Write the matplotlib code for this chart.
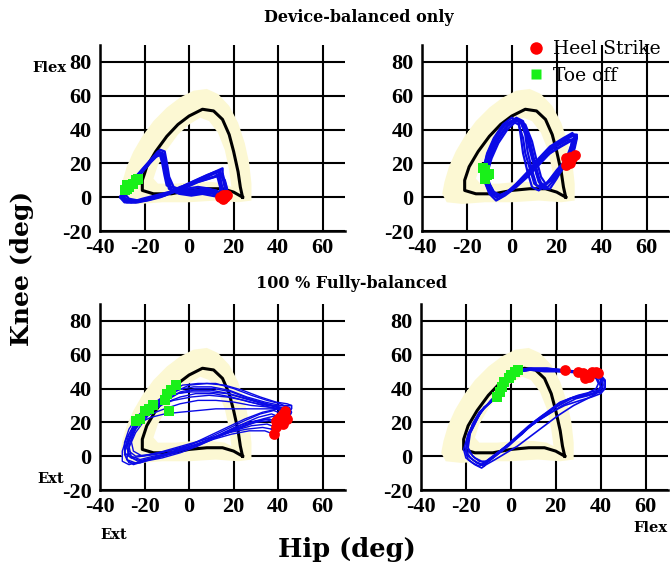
import matplotlib.pyplot as plt
from matplotlib.lines import Line2D

plt.rcParams['font.family'] = 'DejaVu Serif'
plt.rcParams['axes.unicode_minus'] = False

# normative hip-knee loop (mean) and its +/- SD envelope
norm_hip = [24, 20, 15, 8, 0, -8, -16, -21, -21, -19, -15, -10, -5, 0, 6, 11, 15, 18, 20, 22, 23, 24]
norm_knee = [0, 3, 5, 5, 4, 2, 2, 4, 10, 18, 27, 36, 43, 48, 52, 51, 46, 37, 27, 15, 6, 0]

sd_outer_hip = [28, 28, 27, 25, 22, 18, 13, 8, 2, -4, -10, -16, -21, -25, -28, -30, -31, -29, -22, -12, 0, 12, 22]
sd_outer_knee = [-2, 8, 20, 32, 44, 54, 61, 64, 63, 59, 53, 45, 36, 27, 18, 9, 2, -3, -4, -3, -3, -2, -3]
sd_inner_hip = [19, 18, 16, 13, 9, 5, 0, -5, -10, -14, -16, -14, -6, 2, 10, 16]
sd_inner_knee = [6, 16, 28, 38, 45, 47, 43, 37, 28, 19, 11, 8, 8, 9, 9, 8]

# device-balanced only, subject A
tl_hip = [
    [16, 16, 15, 15, 10, 5, 0, -5, -10, -16, -22, -27, -30, -29, -28, -25, -21, -17, -14, -12, -11, -10, -9, -5, 0, 5, 10, 14, 16],
    [15, 14, 14, 13, 8, 3, -2, -7, -12, -18, -24, -28, -30, -28, -27, -24, -20, -16, -13, -12, -11, -9, -8, -4, 1, 6, 11, 15],
    [17, 17, 16, 14, 9, 4, -1, -6, -11, -17, -23, -28, -31, -29, -27, -24, -20, -16, -13, -11, -10, -9, -7, -3, 2, 7, 12, 15, 17],
    [15, 15, 14, 14, 9, 4, -1, -6, -11, -17, -23, -27, -29, -28, -26, -23, -19, -15, -12, -11, -10, -9, -8, -3, 3, 8, 12, 15],
    [16, 17, 16, 15, 11, 6, 1, -4, -9, -15, -21, -26, -29, -29, -27, -24, -21, -18, -15, -13, -12, -11, -10, -6, -1, 4, 9, 13, 16],
    [14, 14, 13, 12, 8, 3, -2, -7, -13, -19, -25, -29, -31, -30, -28, -25, -21, -17, -14, -12, -11, -10, -8, -4, 1, 6, 10, 14],
]
tl_knee = [
    [0, 6, 12, 17, 14, 11, 8, 5, 2, 0, -2, -2, 0, 3, 5, 10, 16, 22, 27, 26, 19, 11, 5, 3, 3, 4, 3, 1, 0],
    [1, 7, 13, 15, 12, 9, 6, 3, 1, -1, -3, -2, 1, 4, 6, 11, 17, 23, 26, 24, 17, 9, 4, 2, 2, 3, 2, 1],
    [1, 5, 10, 13, 11, 9, 6, 4, 2, -1, -3, -3, 0, 4, 7, 12, 18, 24, 28, 27, 20, 12, 6, 4, 4, 5, 4, 2, 1],
    [-1, 5, 11, 16, 13, 10, 7, 4, 1, -1, -2, -1, 2, 5, 8, 13, 19, 24, 26, 23, 16, 9, 4, 3, 3, 4, 2, -1],
    [0, 4, 9, 14, 12, 10, 8, 6, 3, 1, -1, -3, -1, 3, 6, 11, 15, 20, 24, 25, 20, 13, 7, 5, 5, 6, 5, 2, 0],
    [0, 6, 11, 15, 13, 10, 7, 3, 0, -2, -3, -3, 0, 2, 5, 9, 15, 21, 25, 25, 18, 10, 4, 2, 1, 2, 1, 0],
]
tl_hs_hip = [14, 15, 16, 17, 16, 15]
tl_hs_knee = [0, -1, 0, 1, 1, 1]
tl_to_hip = [-29, -28, -27, -25, -24, -23, -28]
tl_to_knee = [4, 5, 6, 8, 10, 11, 7]

# device-balanced only, subject B
tr_hip = [
    [25, 27, 28, 26, 22, 17, 12, 8, 3, -2, -6, -9, -11, -12, -10, -7, -3, 1, 4, 6, 7, 9, 11, 14, 18, 22, 25],
    [26, 28, 29, 27, 23, 18, 13, 8, 3, -2, -5, -9, -11, -12, -10, -6, -2, 2, 5, 7, 9, 11, 13, 16, 20, 24, 26],
    [24, 26, 27, 25, 21, 16, 11, 7, 2, -3, -7, -10, -12, -13, -11, -8, -4, 0, 3, 5, 6, 8, 10, 13, 17, 21, 24],
    [25, 27, 28, 27, 23, 17, 12, 7, 2, -3, -6, -9, -11, -11, -9, -6, -2, 2, 5, 8, 10, 12, 14, 17, 20, 23, 25],
    [27, 28, 29, 28, 24, 19, 14, 9, 4, -1, -5, -8, -10, -12, -10, -7, -3, 1, 4, 6, 8, 10, 12, 15, 19, 24, 27],
    [26, 28, 29, 28, 24, 19, 14, 9, 4, -1, -5, -8, -10, -11, -9, -6, -2, 2, 6, 9, 11, 13, 15, 18, 22, 26],
    [24, 26, 27, 26, 22, 17, 12, 7, 2, -3, -7, -10, -12, -13, -11, -8, -4, 0, 3, 4, 5, 7, 9, 12, 16, 20, 24],
]
tr_knee = [
    [22, 30, 36, 36, 33, 29, 22, 15, 8, 3, 1, 4, 9, 14, 24, 33, 41, 46, 45, 37, 27, 16, 7, 6, 12, 18, 22],
    [24, 31, 37, 37, 34, 29, 22, 14, 8, 3, 0, 3, 8, 13, 24, 34, 42, 47, 45, 36, 25, 14, 6, 6, 12, 19, 24],
    [20, 28, 34, 34, 31, 27, 20, 13, 7, 2, 0, 3, 9, 15, 25, 34, 42, 45, 43, 35, 26, 17, 8, 5, 10, 16, 20],
    [23, 30, 35, 38, 35, 30, 23, 15, 8, 2, -1, 2, 8, 14, 23, 32, 40, 45, 44, 34, 22, 12, 5, 5, 11, 18, 23],
    [25, 31, 36, 35, 32, 28, 23, 16, 9, 4, 1, 3, 8, 16, 26, 35, 43, 46, 44, 38, 28, 18, 9, 7, 13, 20, 25],
    [21, 29, 35, 37, 34, 30, 24, 17, 10, 4, 1, 3, 8, 15, 25, 35, 42, 46, 43, 33, 22, 12, 8, 10, 16, 21],
    [22, 29, 33, 33, 30, 26, 19, 12, 6, 1, -2, 2, 9, 15, 26, 35, 43, 47, 45, 36, 26, 15, 6, 4, 9, 16, 22],
]
tr_hs_hip = [24, 25, 26, 27, 28, 24, 26]
tr_hs_knee = [19, 22, 24, 23, 25, 23, 20]
tr_to_hip = [-12, -11, -12, -10, -13]
tr_to_knee = [11, 13, 16, 14, 17]

# 100 % fully-balanced, subject A
bl_hip = [
    [40, 36, 30, 22, 14, 6, -2, -10, -18, -24, -28, -29, -27, -24, -19, -13, -6, 2, 10, 18, 26, 34, 41, 45, 46, 44, 40],
    [41, 37, 31, 24, 16, 8, 0, -8, -16, -22, -26, -27, -25, -22, -17, -11, -4, 4, 12, 20, 28, 36, 42, 45, 45, 43, 41],
    [39, 35, 28, 20, 12, 4, -4, -12, -20, -25, -28, -27, -24, -19, -14, -9, -3, 4, 12, 20, 28, 35, 41, 44, 45, 42, 39],
    [42, 38, 32, 25, 17, 9, 1, -7, -15, -21, -25, -26, -24, -20, -15, -10, -4, 3, 11, 19, 27, 35, 42, 46, 46, 44, 42],
    [43, 39, 33, 26, 18, 10, 2, -6, -14, -21, -26, -28, -26, -22, -17, -11, -5, 2, 10, 18, 26, 34, 40, 44, 46, 45, 43],
    [38, 34, 27, 19, 11, 3, -5, -13, -21, -27, -30, -30, -28, -24, -20, -14, -7, 1, 9, 17, 25, 33, 39, 43, 44, 41, 38],
    [40, 36, 30, 23, 15, 7, -1, -9, -17, -23, -27, -28, -26, -22, -16, -10, -4, 3, 11, 19, 27, 35, 41, 45, 45, 43, 40],
    [39, 35, 29, 22, 14, 6, -2, -10, -18, -24, -27, -27, -25, -22, -17, -11, -4, 4, 12, 20, 28, 35, 41, 44, 44, 42, 39],
    [44, 40, 33, 25, 17, 9, 1, -7, -15, -22, -27, -29, -28, -25, -21, -15, -8, 0, 8, 16, 24, 32, 39, 44, 46, 46, 44],
    [37, 33, 26, 18, 10, 2, -6, -14, -21, -26, -29, -29, -27, -23, -18, -12, -6, 1, 9, 17, 25, 33, 39, 43, 43, 40, 37],
]
bl_knee = [
    [20, 22, 21, 18, 13, 8, 4, 1, -2, -4, -2, 4, 13, 21, 28, 34, 39, 41, 41, 39, 35, 32, 30, 29, 26, 22, 20],
    [23, 25, 23, 19, 14, 9, 5, 2, 0, -2, 0, 6, 14, 22, 25, 28, 31, 33, 33, 32, 30, 29, 28, 27, 25, 24, 23],
    [17, 19, 18, 15, 11, 6, 2, -1, -3, -5, -2, 5, 14, 23, 31, 37, 42, 43, 43, 40, 36, 33, 31, 29, 25, 20, 17],
    [25, 27, 25, 21, 16, 11, 7, 4, 1, 0, 3, 9, 16, 23, 28, 32, 35, 37, 37, 35, 32, 30, 30, 30, 28, 26, 25],
    [22, 24, 22, 19, 15, 10, 6, 2, -1, -3, -1, 5, 12, 20, 27, 33, 37, 39, 39, 37, 34, 31, 29, 28, 26, 23, 22],
    [13, 15, 15, 13, 10, 6, 3, 0, -3, -5, -3, 3, 11, 19, 26, 30, 33, 35, 36, 35, 33, 30, 28, 26, 22, 16, 13],
    [19, 21, 20, 17, 13, 9, 5, 2, -1, -3, 0, 6, 14, 22, 28, 33, 38, 40, 40, 38, 34, 31, 29, 27, 24, 21, 19],
    [21, 22, 20, 16, 12, 8, 5, 3, 1, 0, 3, 9, 15, 20, 23, 25, 26, 27, 28, 28, 28, 28, 28, 27, 25, 23, 21],
    [26, 28, 26, 22, 17, 12, 7, 3, -1, -4, -4, 1, 8, 16, 24, 31, 37, 42, 43, 42, 39, 35, 32, 31, 30, 28, 26],
    [16, 17, 16, 14, 11, 8, 5, 2, 0, -1, 2, 8, 16, 24, 30, 34, 37, 38, 38, 37, 34, 31, 29, 27, 22, 18, 16],
]
bl_hs_hip = [38, 39, 40, 41, 42, 43, 44, 43, 41, 39, 42]
bl_hs_knee = [13, 17, 22, 20, 25, 24, 22, 27, 23, 21, 19]
bl_to_hip = [-24, -22, -20, -18, -16, -11, -10, -8, -6, -9]
bl_to_knee = [21, 22, 27, 28, 30, 33, 37, 39, 42, 27]

# 100 % fully-balanced, subject B
br_hip = [
    [33, 37, 40, 41, 39, 36, 30, 22, 16, 10, 5, 0, -5, -10, -13, -16, -19, -20, -19, -16, -13, -9, -6, -3, 0, 3, 8, 15, 22, 28, 33],
    [36, 39, 41, 41, 39, 35, 29, 23, 17, 11, 5, 0, -4, -9, -12, -15, -18, -20, -19, -17, -14, -10, -6, -3, 0, 3, 8, 15, 22, 29, 36],
    [30, 35, 38, 39, 38, 34, 28, 21, 15, 9, 4, -1, -6, -10, -12, -15, -18, -20, -19, -16, -12, -9, -6, -3, 0, 3, 9, 16, 23, 30],
    [38, 40, 42, 42, 40, 36, 31, 24, 18, 12, 6, 1, -4, -8, -11, -14, -17, -19, -18, -15, -12, -8, -5, -2, 1, 4, 9, 16, 24, 31, 38],
    [34, 38, 40, 40, 38, 34, 27, 20, 13, 7, 2, -3, -8, -12, -14, -17, -20, -21, -19, -16, -12, -8, -5, -2, 1, 4, 9, 16, 23, 29, 34],
    [32, 36, 39, 40, 38, 34, 28, 21, 14, 8, 3, -2, -7, -11, -13, -16, -19, -20, -19, -16, -13, -9, -6, -3, 0, 3, 8, 15, 22, 28, 32],
    [37, 40, 42, 42, 40, 37, 32, 26, 20, 14, 8, 2, -3, -7, -10, -13, -16, -19, -19, -17, -14, -10, -7, -4, -1, 3, 9, 16, 24, 31, 37],
]
br_knee = [
    [50, 49, 46, 42, 39, 38, 36, 32, 26, 20, 13, 8, 3, -2, -5, -3, 0, 4, 12, 20, 27, 32, 36, 42, 47, 51, 52, 51, 51, 50, 50],
    [49, 48, 45, 41, 38, 36, 34, 30, 25, 20, 14, 8, 3, -2, -5, -4, -1, 3, 11, 19, 26, 31, 35, 41, 46, 50, 51, 50, 50, 50, 49],
    [50, 49, 46, 43, 40, 37, 35, 31, 24, 18, 12, 6, 1, -3, -6, -4, -1, 3, 13, 21, 28, 33, 37, 43, 48, 51, 52, 52, 51, 50],
    [49, 47, 44, 40, 37, 35, 33, 30, 26, 21, 15, 9, 4, -1, -4, -3, 0, 5, 14, 22, 29, 33, 37, 42, 47, 50, 51, 51, 50, 49, 49],
    [50, 48, 45, 41, 38, 36, 34, 29, 22, 16, 10, 5, 0, -4, -6, -4, -1, 4, 13, 21, 28, 33, 37, 43, 47, 50, 51, 51, 51, 50, 50],
    [50, 48, 45, 41, 37, 34, 30, 24, 17, 11, 6, 2, -2, -5, -7, -5, -2, 2, 11, 19, 27, 32, 36, 42, 47, 50, 51, 51, 50, 50, 50],
    [50, 48, 45, 41, 38, 37, 36, 34, 29, 24, 18, 11, 5, 0, -3, -3, -1, 3, 11, 19, 26, 31, 35, 40, 45, 50, 52, 52, 51, 50, 50],
]
br_hs_hip = [24, 30, 32, 34, 36, 38, 33, 35, 39]
br_hs_knee = [51, 50, 49, 48, 50, 50, 46, 47, 49]
br_to_hip = [-6, -5, -4, -3, -1, 0, 2, 3]
br_to_knee = [35, 38, 41, 44, 46, 48, 50, 51]

xticks = [-40, -20, 0, 20, 40, 60]
yticks = [-20, 0, 20, 40, 60, 80]

W, H = 670, 569
fig = plt.figure(figsize=(W / 100, H / 100), dpi=100)


def px_axes(left, right, bottom, top):
    return fig.add_axes([left / W, 1 - bottom / H, (right - left) / W, (bottom - top) / H])


def draw_panel(ax, cyc_hip, cyc_knee, hs_hip, hs_knee, to_hip, to_knee, lw):
    ring_x = sd_outer_hip + sd_outer_hip[:1] + sd_inner_hip[::-1] + sd_inner_hip[-1:]
    ring_y = sd_outer_knee + sd_outer_knee[:1] + sd_inner_knee[::-1] + sd_inner_knee[-1:]
    ax.fill(ring_x, ring_y, color='#fcf8d3', lw=0, zorder=1)
    ax.plot(norm_hip, norm_knee, color='black', lw=2.2, zorder=2, solid_joinstyle='round')
    for h, k in zip(cyc_hip, cyc_knee):
        ax.plot(h, k, color='#0a0ae6', lw=lw, zorder=3, solid_joinstyle='round')
    ax.scatter(hs_hip, hs_knee, s=60, c='#ff0000', marker='o', linewidths=0, zorder=5)
    ax.scatter(to_hip, to_knee, s=45, c='#19f019', marker='s', linewidths=0, zorder=5)

    ax.set_xlim(-40, 70)
    ax.set_ylim(-20, 90)
    ax.set_xticks(xticks)
    ax.set_yticks(yticks)
    ax.grid(True, color='black', lw=1.5)
    ax.set_axisbelow(True)
    ax.spines['top'].set_visible(False)
    ax.spines['right'].set_visible(False)
    ax.spines['left'].set_linewidth(1.8)
    ax.spines['bottom'].set_linewidth(1.8)
    ax.tick_params(length=0)
    ax.tick_params(axis='x', pad=5)
    ax.tick_params(axis='y', pad=6)
    for lab in ax.get_xticklabels() + ax.get_yticklabels():
        lab.set_fontfamily('Liberation Serif')
        lab.set_fontweight('bold')
        lab.set_fontsize(16)


ax_tl = px_axes(100, 345, 231, 45)
ax_tr = px_axes(422, 669, 231, 45)
ax_bl = px_axes(100, 345, 490, 304)
ax_br = px_axes(421, 668, 490, 304)

draw_panel(ax_tl, tl_hip, tl_knee, tl_hs_hip, tl_hs_knee, tl_to_hip, tl_to_knee, 1.8)
draw_panel(ax_tr, tr_hip, tr_knee, tr_hs_hip, tr_hs_knee, tr_to_hip, tr_to_knee, 1.6)
draw_panel(ax_bl, bl_hip, bl_knee, bl_hs_hip, bl_hs_knee, bl_to_hip, bl_to_knee, 1.0)
draw_panel(ax_br, br_hip, br_knee, br_hs_hip, br_hs_knee, br_to_hip, br_to_knee, 1.2)

handles = [
    Line2D([], [], ls='none', marker='o', ms=9, color='#ff0000', mec='none'),
    Line2D([], [], ls='none', marker='s', ms=7, color='#19f019', mec='none'),
]
fig.legend(handles, ['Heel Strike', 'Toe off'], loc='upper left',
           bbox_to_anchor=(519 / W, 1 - 33 / H), frameon=False, fontsize=13.5,
           handlelength=1.0, handletextpad=0.4, labelspacing=0.45, borderaxespad=0)

fig.text(359 / W, 1 - 17 / H, 'Device-balanced only', ha='center', va='center',
         fontsize=11.5, fontweight='bold')
fig.text(352 / W, 1 - 283 / H, '100 % Fully-balanced', ha='center', va='center',
         fontsize=11.5, fontweight='bold')

fig.text(22 / W, 1 - 268 / H, 'Knee (deg)', rotation=90, ha='center', va='center',
         fontsize=18, fontweight='bold')
fig.text(347 / W, 1 - 549 / H, 'Hip (deg)', ha='center', va='center',
         fontsize=18.5, fontweight='bold')

fig.text(49 / W, 1 - 68 / H, 'Flex', ha='center', va='center', fontsize=10.5, fontweight='bold')
fig.text(51 / W, 1 - 479 / H, 'Ext', ha='center', va='center', fontsize=10.5, fontweight='bold')
fig.text(114 / W, 1 - 535 / H, 'Ext', ha='center', va='center', fontsize=10.5, fontweight='bold')
fig.text(650 / W, 1 - 528 / H, 'Flex', ha='center', va='center', fontsize=10.5, fontweight='bold')

fig.savefig('out.png', dpi=100)
